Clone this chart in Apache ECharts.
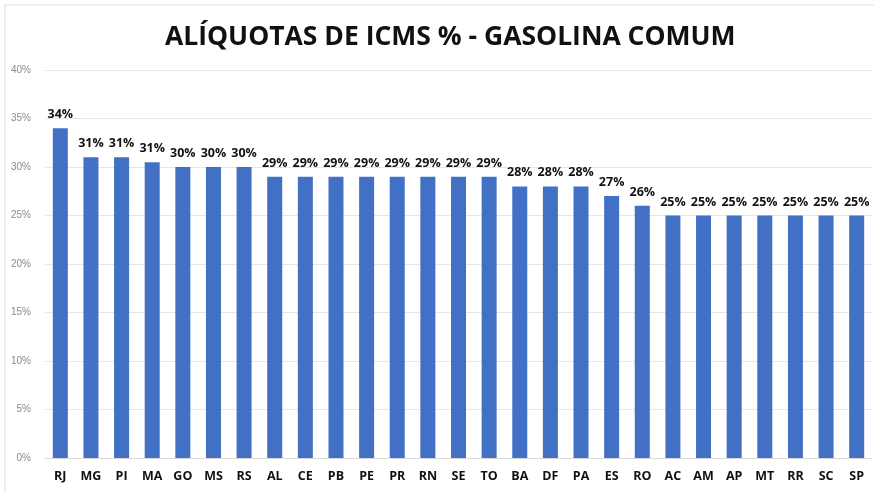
<!DOCTYPE html>
<html>
<head>
<meta charset="utf-8">
<script src="https://cdn.jsdelivr.net/npm/echarts@6/dist/echarts.min.js"></script>
<style>
  html, body { margin: 0; padding: 0; background: #fff; }
  #chart { width: 874px; height: 493px; }
</style>
</head>
<body>
<div id="chart"></div>
<script>
const estados = ["RJ", "MG", "PI", "MA", "GO", "MS", "RS", "AL", "CE", "PB", "PE", "PR", "RN", "SE", "TO",
  "BA", "DF", "PA", "ES", "RO", "AC", "AM", "AP", "MT", "RR", "SC", "SP"];
const aliquotas = [34, 31, 31, 30.5, 30, 30, 30, 29, 29, 29, 29, 29, 29, 29, 29,
  28, 28, 28, 27, 26, 25, 25, 25, 25, 25, 25, 25];
const yTicks = [0, 5, 10, 15, 20, 25, 30, 35, 40];

const chart = echarts.init(document.querySelector("#chart"));
chart.setOption({
  animation: false,
  // moldura clara em volta da imagem
  graphic: [{
    type: "rect",
    shape: { x: 5, y: 5, width: 900, height: 600 },
    style: { fill: "none", stroke: "#efefef", lineWidth: 2 },
    silent: true
  }],
  title: {
    text: "ALÍQUOTAS DE ICMS % - GASOLINA COMUM",
    left: 160,
    top: 19,
    textStyle: { fontFamily: "Open Sans", fontWeight: "bold", fontSize: 26.5, color: "#111" }
  },
  grid: { left: 45, right: 2, top: 70, bottom: 35 },
  xAxis: {
    type: "category",
    data: estados,
    axisTick: { show: false },
    axisLine: { lineStyle: { color: "#d9d9d9" } },
    axisLabel: { color: "#111", fontWeight: "bold", fontSize: 12.5, fontFamily: "Open Sans", margin: 12 }
  },
  yAxis: {
    type: "value",
    min: yTicks[0],
    max: yTicks[yTicks.length - 1],
    interval: 5,
    axisLabel: { formatter: "{value}%", color: "#8a8a8a", fontSize: 10, margin: 14 },
    splitLine: { lineStyle: { color: "#e6e6e6" } }
  },
  series: [{
    type: "bar",
    data: aliquotas,
    barWidth: 15,
    itemStyle: { color: "#4270c4" },
    label: {
      show: true,
      position: "top",
      distance: 7,
      formatter: (p) => Math.round(p.value) + "%",
      color: "#111",
      fontWeight: "bold",
      fontSize: 12.5,
      fontFamily: "Open Sans"
    }
  }]
});
</script>
</body>
</html>
